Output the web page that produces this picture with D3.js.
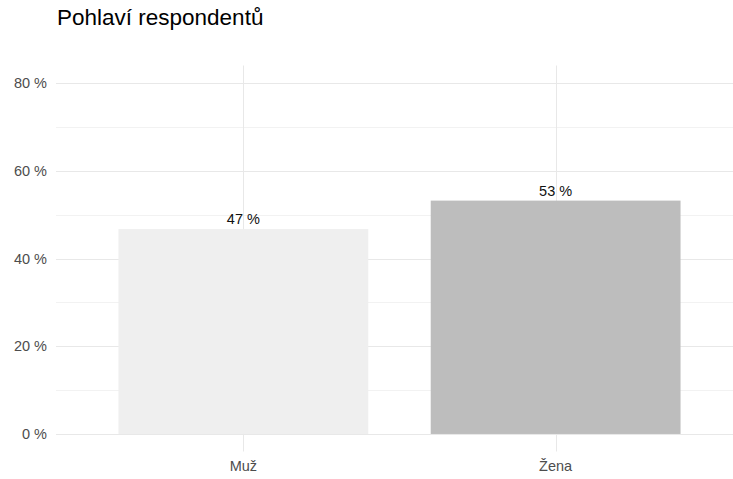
<!DOCTYPE html>
<html><head><meta charset="utf-8">
<script src="https://cdn.jsdelivr.net/npm/d3@7"></script>
<style>body{margin:0;background:#fff}svg{display:block;font-family:"Liberation Sans",Arial,sans-serif}</style>
</head><body><svg id="c" width="733" height="479"></svg>
<script>
const title = "Pohlaví respondentů";
const categories = ["Muž", "Žena"];
const values = [0.467, 0.532];
const labels = ["47 %", "53 %"];
const barColors = ["#efefef", "#bdbdbd"];
const majorTicks = [0, 0.2, 0.4, 0.6, 0.8];
const minorTicks = [0.1, 0.3, 0.5, 0.7];

const svg = d3.select("#c");
const panel = {left: 56, right: 743, top: 65.5, bottom: 451.5};
const W = 733;

const y = d3.scaleLinear().domain([-0.04, 0.84]).range([panel.bottom, panel.top]);
const x = d3.scaleBand().domain(categories).range([panel.left, panel.right])
  .paddingInner(0.2).paddingOuter(0.2);

const g = svg.append("g");
// minor grid
g.selectAll(".minor").data(minorTicks).join("line")
  .attr("x1", panel.left).attr("x2", W)
  .attr("y1", d => Math.round(y(d)) + 0.5).attr("y2", d => Math.round(y(d)) + 0.5)
  .attr("stroke", "#f2f2f2").attr("stroke-width", 1);
// major grid
g.selectAll(".major").data(majorTicks).join("line")
  .attr("x1", panel.left).attr("x2", W)
  .attr("y1", d => Math.round(y(d)) + 0.5).attr("y2", d => Math.round(y(d)) + 0.5)
  .attr("stroke", "#e8e8e8").attr("stroke-width", 1);
// vertical grid
g.selectAll(".vg").data(categories).join("line")
  .attr("x1", d => Math.round(x(d) + x.bandwidth() / 2) + 0.5)
  .attr("x2", d => Math.round(x(d) + x.bandwidth() / 2) + 0.5)
  .attr("y1", panel.top).attr("y2", panel.bottom)
  .attr("stroke", "#e8e8e8").attr("stroke-width", 1);

// bars
g.selectAll(".bar").data(values).join("rect")
  .attr("x", (d, i) => x(categories[i]))
  .attr("width", x.bandwidth())
  .attr("y", d => y(d))
  .attr("height", d => y(0) - y(d))
  .attr("fill", (d, i) => barColors[i]);

// bar labels
g.selectAll(".lab").data(values).join("text")
  .attr("x", (d, i) => x(categories[i]) + x.bandwidth() / 2)
  .attr("y", d => y(d) - 5)
  .attr("text-anchor", "middle")
  .attr("font-size", "14.5px").attr("fill", "#111")
  .text((d, i) => labels[i]);

// y axis labels
const fmt = d => Math.round(d * 100) + " %";
const yAxis = d3.axisLeft(y).tickValues(majorTicks).tickFormat(fmt).tickSize(0).tickPadding(9);
const ya = svg.append("g").attr("transform", `translate(${panel.left},0)`).call(yAxis);
ya.select(".domain").remove();
ya.selectAll("text").attr("font-size", "14.5px").attr("fill", "#4d4d4d")
  .attr("font-family", "Liberation Sans, Arial, sans-serif");

// x axis labels
const xAxis = d3.axisBottom(x).tickSize(0).tickPadding(9);
const xa = svg.append("g").attr("transform", `translate(0,${panel.bottom})`).call(xAxis);
xa.select(".domain").remove();
xa.selectAll("text").attr("font-size", "14.5px").attr("fill", "#4d4d4d")
  .attr("font-family", "Liberation Sans, Arial, sans-serif");

// title
svg.append("text").attr("x", panel.left + 1).attr("y", 25)
  .attr("font-size", "22.5px").attr("fill", "#000").text(title);
</script></body></html>
